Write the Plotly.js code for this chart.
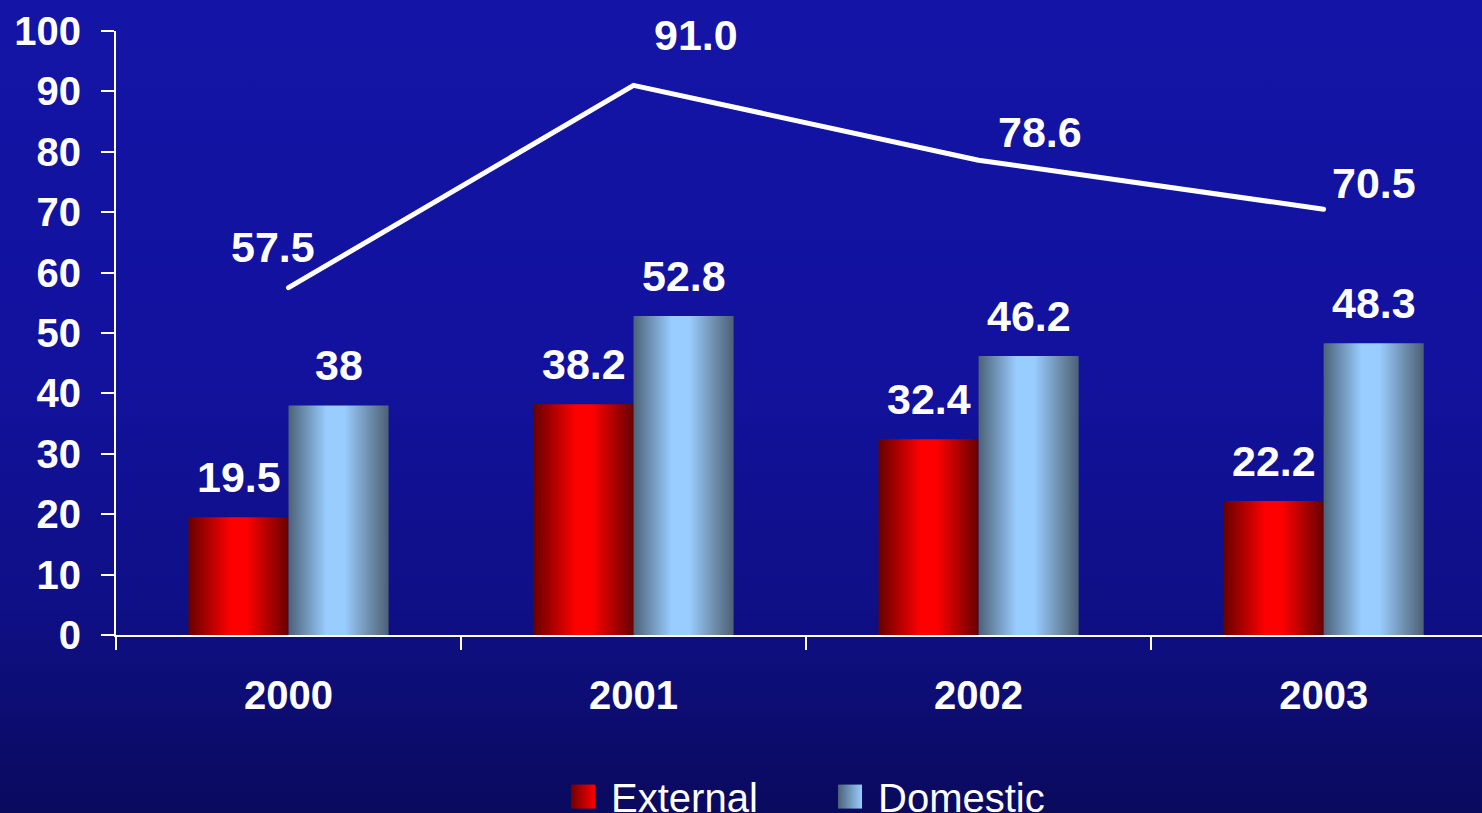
<!DOCTYPE html>
<html>
<head>
<meta charset="utf-8">
<script src="https://cdn.plot.ly/plotly-3.0.1.min.js"></script>
<style>
  html, body { margin: 0; padding: 0; width: 1482px; height: 813px; overflow: hidden; }
  body { background: linear-gradient(to bottom, #1414a6 0%, #12129e 45%, #0f0f86 75%, #0a0a5e 100%); }
  #chart { width: 1482px; height: 813px; }
</style>
</head>
<body>
<div id="chart"></div>
<script>
// ---- data ----
const years = ['2000', '2001', '2002', '2003'];
const external = [19.5, 38.2, 32.4, 22.2];
const domestic = [38, 52.8, 46.2, 48.3];
const total = [57.5, 91.0, 78.6, 70.5];
const yTicks = [0, 10, 20, 30, 40, 50, 60, 70, 80, 90, 100];

// ---- label styling offsets (pixels) ----
const lineLabelShift = [[-16, 41], [62, 50], [61, 28], [50, 26]];
const barLabelLift = 40;

const FONT = 'Liberation Sans, Arial, sans-serif';

const traces = [
  { type: 'bar', name: 'External', x: years, y: external,
    marker: { color: '#ff0000', line: { width: 0 } }, hoverinfo: 'skip' },
  { type: 'bar', name: 'Domestic', x: years, y: domestic,
    marker: { color: '#99ccff', line: { width: 0 } }, hoverinfo: 'skip' },
  { type: 'scatter', mode: 'lines', name: 'Total', x: years, y: total,
    line: { color: '#ffffff', width: 5 }, showlegend: false, cliponaxis: false, hoverinfo: 'skip' }
];

const labelFont = { family: FONT, size: 43, color: '#ffffff', weight: 'bold' };
const annotations = [];
external.forEach((v, i) => annotations.push({
  x: i, y: v, xref: 'x', yref: 'y', text: '<b>' + String(v) + '</b>', showarrow: false,
  xshift: -50, yshift: barLabelLift, yanchor: 'middle', xanchor: 'center', font: labelFont
}));
domestic.forEach((v, i) => annotations.push({
  x: i, y: v, xref: 'x', yref: 'y', text: '<b>' + String(v) + '</b>', showarrow: false,
  xshift: 50, yshift: barLabelLift, yanchor: 'middle', xanchor: 'center', font: labelFont
}));
total.forEach((v, i) => annotations.push({
  x: i, y: v, xref: 'x', yref: 'y', text: '<b>' + v.toFixed(1) + '</b>', showarrow: false,
  xshift: lineLabelShift[i][0], yshift: lineLabelShift[i][1], yanchor: 'middle', xanchor: 'center', font: labelFont
}));

const layout = {
  width: 1482, height: 813,
  margin: { l: 116, r: 0, t: 31, b: 178, autoexpand: false },
  paper_bgcolor: 'rgba(0,0,0,0)', plot_bgcolor: 'rgba(0,0,0,0)',
  barmode: 'group', bargap: 0.42, bargroupgap: 0,
  font: { family: FONT, color: '#ffffff' },
  xaxis: {
    type: 'category', range: [-0.5, 3.459], fixedrange: true,
    showline: true, linecolor: '#ffffff', linewidth: 2,
    ticks: 'outside', tickson: 'boundaries', ticklen: 13, tickwidth: 2, tickcolor: '#ffffff',
    showgrid: false, zeroline: false, ticklabelstandoff: 24,
    tickfont: { family: FONT, size: 40, color: '#ffffff', weight: 'bold' }
  },
  yaxis: {
    range: [0, 100], tickvals: yTicks, ticktext: yTicks.map(String), fixedrange: true,
    showline: true, linecolor: '#ffffff', linewidth: 2,
    ticks: 'outside', ticklen: 13, tickwidth: 2, tickcolor: '#ffffff',
    showgrid: false, zeroline: false, ticklabelstandoff: 12,
    tickfont: { family: FONT, size: 40, color: '#ffffff', weight: 'bold' }
  },
  showlegend: true,
  legend: {
    orientation: 'h', x: 0.3214, xanchor: 'left', y: -0.2137, yanchor: 'top',
    bgcolor: 'rgba(0,0,0,0)', borderwidth: 0, itemwidth: 46, entrywidth: 206,
    font: { family: FONT, size: 40, color: '#ffffff' }, itemclick: false, itemdoubleclick: false
  },
  annotations: annotations
};

const gd = document.getElementById('chart');
Plotly.newPlot(gd, traces, layout, { displayModeBar: false, staticPlot: true }).then(() => {
  const NS = 'http://www.w3.org/2000/svg';
  const svg = gd.querySelector('svg.main-svg');
  let defs = svg.querySelector('defs');
  if (!defs) { defs = document.createElementNS(NS, 'defs'); svg.insertBefore(defs, svg.firstChild); }
  function grad(id, stops) {
    const g = document.createElementNS(NS, 'linearGradient');
    g.setAttribute('id', id);
    g.setAttribute('x1', '0'); g.setAttribute('y1', '0'); g.setAttribute('x2', '1'); g.setAttribute('y2', '0');
    stops.forEach(([o, c]) => {
      const s = document.createElementNS(NS, 'stop');
      s.setAttribute('offset', o); s.setAttribute('stop-color', c);
      g.appendChild(s);
    });
    defs.appendChild(g);
  }
  grad('gExt', [[0, '#680000'], [0.42, '#ff0000'], [0.58, '#ff0000'], [1, '#680000']]);
  grad('gDom', [[0, '#4c6278'], [0.38, '#99ccff'], [0.56, '#99ccff'], [0.8, '#7090b0'], [1, '#4c6076']]);
  grad('gExtL', [[0, '#700000'], [1, '#ff0000']]);
  grad('gDomL', [[0, '#4c6278'], [1, '#99ccff']]);

  const barTraces = gd.querySelectorAll('.barlayer .trace.bars');
  const ids = ['gExt', 'gDom'];
  barTraces.forEach((t, i) => {
    t.querySelectorAll('path').forEach(p => { p.style.fill = 'url(#' + ids[i] + ')'; });
  });
  const legIds = ['gExtL', 'gDomL'];
  gd.querySelectorAll('.legend .traces').forEach((t, i) => {
    t.querySelectorAll('.legendpoints path').forEach(p => {
      p.setAttribute('d', 'M12,12H-12V-12H12Z');
      p.style.fill = 'url(#' + legIds[i] + ')';
      p.style.stroke = 'none';
    });
  });
  gd.querySelectorAll('.scatterlayer .js-line').forEach(p => {
    p.style.strokeLinecap = 'round';
    p.style.strokeLinejoin = 'round';
  });
});
</script>
</body>
</html>
